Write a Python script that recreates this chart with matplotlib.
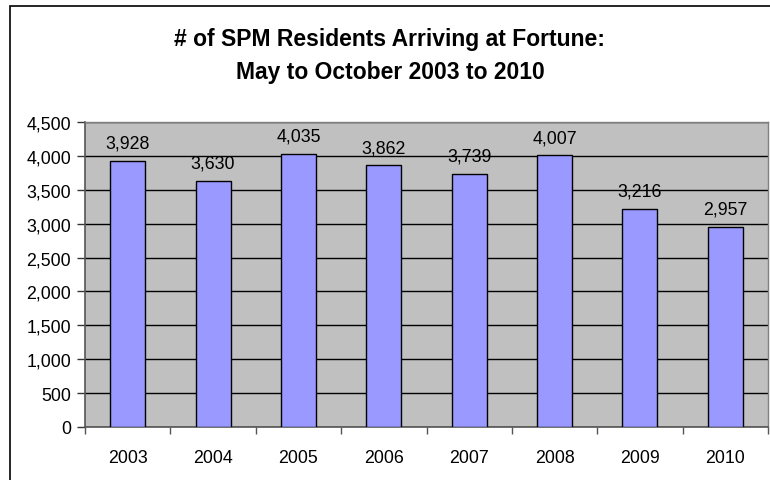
import matplotlib
matplotlib.use("Agg")
import matplotlib.pyplot as plt
from matplotlib.patches import Rectangle
from matplotlib.ticker import FuncFormatter, MultipleLocator

years = ["2003", "2004", "2005", "2006", "2007", "2008", "2009", "2010"]
residents = [3928, 3630, 4035, 3862, 3739, 4007, 3216, 2957]
title_text = "# of SPM Residents Arriving at Fortune:\nMay to October 2003 to 2010"

plt.rcParams['font.family'] = ['Liberation Sans', 'DejaVu Sans']

W, H = 770, 481
fig = plt.figure(figsize=(W / 100, H / 100), dpi=100)
fig.patch.set_facecolor("white")

# outer chart frame (right/bottom cut off)
fig.add_artist(Rectangle((10 / W, -0.05), 1.0, 1 - 7 / H + 0.05,
                         transform=fig.transFigure, fill=False,
                         edgecolor="black", linewidth=1.2))

left, right, top, bottom = 85, 768, 123, 428
ax = fig.add_axes([left / W, 1 - bottom / H, (right - left) / W, (bottom - top) / H])
ax.set_facecolor("#C0C0C0")

x = list(range(len(years)))
ax.bar(x, residents, width=0.41, color="#9999FF", edgecolor="black", linewidth=1.0, zorder=3)

ax.set_xlim(-0.5, len(years) - 0.5)
ax.set_ylim(0, 4500)
ax.yaxis.set_major_locator(MultipleLocator(500))
ax.yaxis.set_major_formatter(FuncFormatter(lambda v, p: f"{int(v):,}"))
ax.grid(axis="y", color="black", linewidth=1.0, zorder=1)

ax.set_xticks(x)
ax.set_xticklabels(years)
ax.set_xticks([i + 0.5 for i in range(-1, len(years))], minor=True)
ax.tick_params(axis="x", which="major", length=0, pad=16, labelsize=12.8)
ax.tick_params(axis="x", which="minor", length=5, width=1.0, direction="out", color="#555555")
ax.tick_params(axis="y", length=6, width=1.0, labelsize=12.8, pad=4, color="#333333")

for sp in ["left", "bottom"]:
    ax.spines[sp].set_color("#555555")
    ax.spines[sp].set_linewidth(1.2)
for sp in ["top", "right"]:
    ax.spines[sp].set_color("#808080")
    ax.spines[sp].set_linewidth(1.0)

for xi, v in zip(x, residents):
    ax.annotate(f"{v:,}", (xi, v), xytext=(0, 6.5), textcoords="offset points",
                ha="center", va="bottom", fontsize=12.8, zorder=4)

fig.text(390 / W, 1 - 56 / H, title_text, ha="center", va="center",
         fontsize=16.5, fontweight="bold", linespacing=1.6)

fig.savefig("out.png", dpi=100)
